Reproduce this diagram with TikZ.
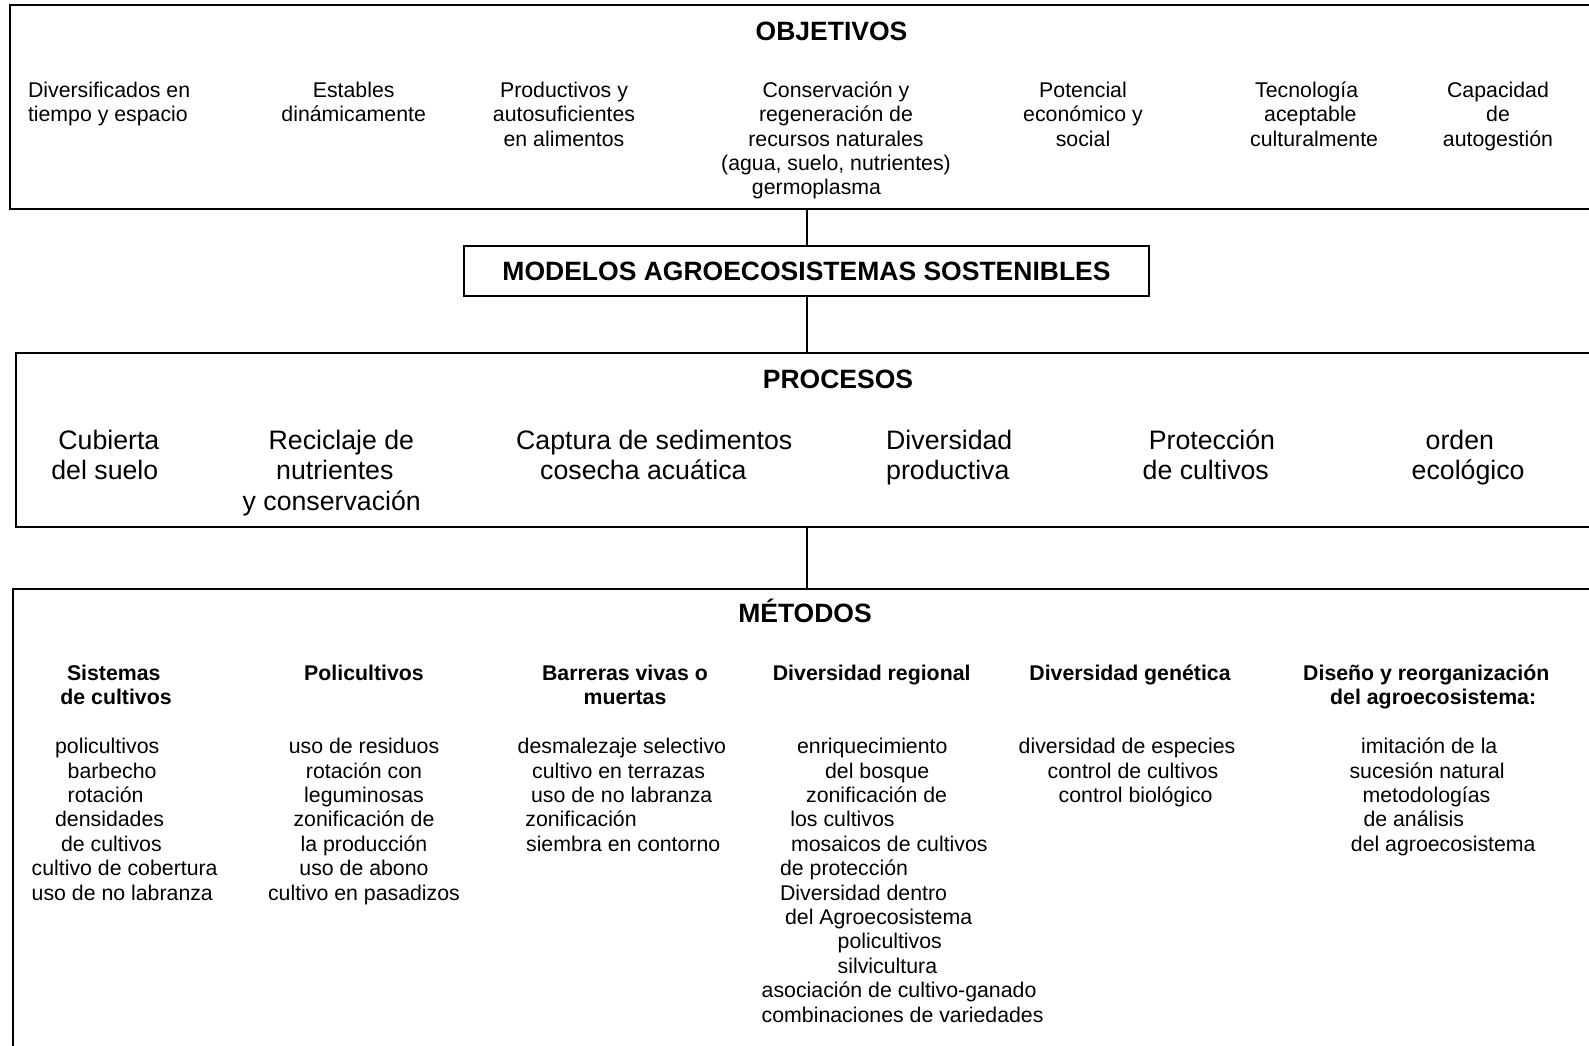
\documentclass[tikz,border=0pt]{standalone}
\usepackage{fontspec}
\setmainfont{Liberation Sans}
\newcommand\topln{\rule{0pt}{30pt}}
\newcommand\ind[1]{\hspace*{#1pt}}
\tikzset{
  frame/.style={draw, line width=2pt, inner sep=0pt, anchor=north west},
  conn/.style={draw, line width=2pt},
  head/.style={font=\fontsize{26.5}{30}\selectfont\bfseries, inner sep=0pt, anchor=base},
  sub/.style={font=\fontsize{21.3}{24.3}\selectfont\bfseries, inner sep=0pt},
  small/.style={font=\fontsize{21.3}{24.2}\selectfont, inner sep=0pt},
  list/.style={font=\fontsize{21.3}{24.4}\selectfont, inner sep=0pt},
  big/.style={font=\fontsize{26.7}{30.4}\selectfont, inner sep=0pt},
  lblk/.style={anchor=north west, align=left},
  cblk/.style={anchor=north, align=center},
}
\begin{document}
\begin{tikzpicture}[x=1pt, y=-1pt]
\useasboundingbox (0,0) rectangle (1589,1045);
\fill[white] (0,0) rectangle (1589,1045);
\clip (0,0) rectangle (1589,1045);

% frames
\node[frame, minimum width=1620pt, minimum height=204pt] (obj) at (9,4) {};
\node[frame, minimum width=685pt, minimum height=50pt, font=\fontsize{26.5}{30}\selectfont\bfseries,
      text height=19pt, text depth=0pt] (mod) at (463,245) {MODELOS AGROECOSISTEMAS SOSTENIBLES};
\node[frame, minimum width=1620pt, minimum height=174pt] (proc) at (15,352) {};
\node[frame, minimum width=1620pt, minimum height=500pt] (met) at (12,588) {};

% connectors
\draw[conn] (obj.south -| mod.north) -- (mod.north);
\draw[conn] (mod.south) -- (mod.south |- proc.north);
\draw[conn] (proc.south -| mod.south) -- (met.north -| mod.south);

% objectives
\node[head] (hobj) at (831.5,40) {OBJETIVOS};
\node[small, lblk] (o1) at (27.8,67.5) {\topln Diversificados en\\tiempo y espacio};
\node[small, cblk] (o2) at (353.7,67.5) {\topln Estables\\dinámicamente};
\node[small, cblk] (o3) at (564,67.5) {\topln Productivos y\\autosuficientes\\en alimentos};
\node[small, cblk] (o4) at (836,67.5) {\topln Conservación y\\regeneración de\\recursos naturales\\(agua, suelo, nutrientes)\\\hspace*{-39pt}germoplasma};
\node[small, cblk] (o5) at (1083,67.5) {\topln Potencial\\económico y\\social};
\node[small, lblk] (o6) at (1250,67.5) {\topln\ind{5}Tecnología\\\ind{14}aceptable\\culturalmente};
\node[small, cblk] (o7) at (1498,67.5) {\topln Capacidad\\de\\autogestión};

% processes
\node[head] (hproc) at (838,388.5) {PROCESOS};
\node[big, lblk] (p1) at (51.2,419) {\topln\ind{7}Cubierta\\del suelo};
\node[big, lblk] (p2) at (242.5,419) {\topln\ind{26}Reciclaje de\\\ind{33.5}nutrientes\\y conservación};
\node[big, lblk] (p3) at (516,419) {\topln Captura de sedimentos\\\ind{24}cosecha acuática};
\node[big, lblk] (p4) at (886,419) {\topln Diversidad\\productiva};
\node[big, lblk] (p5) at (1142.5,419) {\topln\ind{6.2}Protección\\de cultivos};
\node[big, lblk] (p6) at (1411.5,419) {\topln\ind{14}orden\\ecológico};

% methods
\node[head] (hmet) at (805,622.5) {MÉTODOS};
\node[sub, lblk] (h1) at (60.2,650.3) {\topln\ind{6.6}Sistemas\\de cultivos};
\node[sub, cblk] (h2) at (364,650.3) {\topln Policultivos};
\node[sub, cblk] (h3) at (625,650.3) {\topln Barreras vivas o\\muertas};
\node[sub, cblk] (h4) at (871.7,650.3) {\topln Diversidad regional};
\node[sub, cblk] (h5) at (1130,650.3) {\topln Diversidad genética};
\node[sub, lblk] (h6) at (1303,650.3) {\topln Diseño y reorganización\\\ind{27}del agroecosistema:};

\node[list, lblk] (m1) at (31.5,723.5) {\topln\ind{23.4}policultivos\\\ind{36}barbecho\\\ind{36}rotación\\\ind{23.4}densidades\\\ind{29.4}de cultivos\\cultivo de cobertura\\uso de no labranza};
\node[list, cblk] (m2) at (364,723.5) {\topln uso de residuos\\rotación con\\leguminosas\\zonificación de\\la producción\\uso de abono\\cultivo en pasadizos};
\node[list, lblk] (m3) at (517.5,723.5) {\topln desmalezaje selectivo\\\ind{14.4}cultivo en terrazas\\\ind{13.4}uso de no labranza\\\ind{7.7}zonificación\\\ind{8.4}siembra en contorno};
\node[list, lblk] (m4) at (761.5,723.5) {\topln\ind{35.4}enriquecimiento\\\ind{63.4}del bosque\\\ind{44.4}zonificación de\\\ind{28.7}los cultivos\\\ind{29.4}mosaicos de cultivos\\\ind{18.4}de protección\\\ind{18.4}Diversidad dentro\\\ind{23.4}del Agroecosistema\\\ind{76}policultivos\\\ind{76}silvicultura\\asociación de cultivo-ganado\\combinaciones de variedades};
\node[list, lblk] (m5) at (1018.5,723.5) {\topln diversidad de especies\\\ind{29}control de cultivos\\\ind{40}control biológico};
\node[list, lblk] (m6) at (1349.3,723.5) {\topln\ind{11.7}imitación de la\\sucesión natural\\\ind{13}metodologías\\\ind{14}de análisis\\\ind{1.4}del agroecosistema};
\end{tikzpicture}
\end{document}
